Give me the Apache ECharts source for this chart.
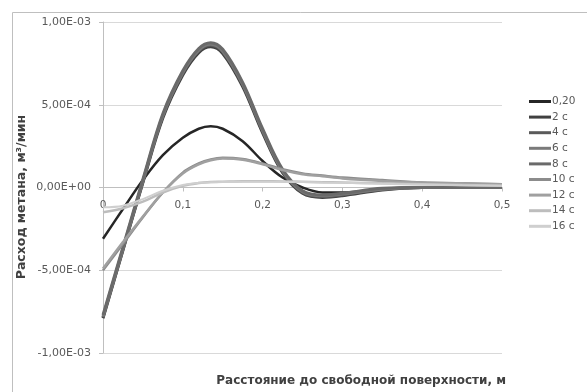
<!DOCTYPE html>
<html>
<head>
<meta charset="utf-8">
<script src="https://cdn.jsdelivr.net/npm/echarts@6/dist/echarts.min.js"></script>
<style>
  html, body { margin: 0; padding: 0; background: #fff; }
  #chart { width: 587px; height: 392px; }
</style>
</head>
<body>
<div id="chart"></div>
<script>
// Distance from the free surface, m
const distances = [0, 0.025, 0.05, 0.075, 0.1, 0.12, 0.135, 0.15, 0.175, 0.2, 0.225, 0.25, 0.275, 0.3, 0.35, 0.4, 0.45, 0.5];

// Methane flow, m3/min, for each moment in time
const s020 = [-3.1e-4, -1.3e-4, 0.45e-4, 1.95e-4, 3.0e-4, 3.55e-4, 3.7e-4, 3.55e-4, 2.8e-4, 1.6e-4, 0.6e-4, 0.0e-4, -0.3e-4, -0.3e-4, -0.1e-4, 0, 0, 0];
const s2  = [-7.9e-4, -3.8e-4, 0.3e-4, 4.2e-4, 6.8e-4, 8.15e-4, 8.5e-4, 8.1e-4, 6.1e-4, 3.3e-4, 0.9e-4, -0.35e-4, -0.6e-4, -0.5e-4, -0.15e-4, 0, 0, 0];
const s4  = [-7.85e-4, -3.75e-4, 0.35e-4, 4.3e-4, 6.9e-4, 8.25e-4, 8.6e-4, 8.2e-4, 6.2e-4, 3.4e-4, 0.95e-4, -0.3e-4, -0.55e-4, -0.45e-4, -0.1e-4, 0, 0, 0];
const s6  = [-7.8e-4, -3.7e-4, 0.4e-4, 4.35e-4, 6.95e-4, 8.3e-4, 8.65e-4, 8.25e-4, 6.25e-4, 3.45e-4, 1.0e-4, -0.25e-4, -0.5e-4, -0.4e-4, -0.1e-4, 0, 0, 0];
const s8  = [-7.7e-4, -3.6e-4, 0.5e-4, 4.45e-4, 7.05e-4, 8.4e-4, 8.75e-4, 8.35e-4, 6.35e-4, 3.55e-4, 1.1e-4, -0.2e-4, -0.45e-4, -0.35e-4, -0.05e-4, 0, 0, 0];
const s10 = [-5.0e-4, -3.4e-4, -1.8e-4, -0.3e-4, 0.9e-4, 1.45e-4, 1.7e-4, 1.8e-4, 1.72e-4, 1.45e-4, 1.1e-4, 0.85e-4, 0.72e-4, 0.6e-4, 0.45e-4, 0.3e-4, 0.25e-4, 0.2e-4];
const s12 = [-4.9e-4, -3.3e-4, -1.75e-4, -0.3e-4, 0.85e-4, 1.4e-4, 1.65e-4, 1.75e-4, 1.68e-4, 1.4e-4, 1.05e-4, 0.8e-4, 0.68e-4, 0.55e-4, 0.4e-4, 0.3e-4, 0.25e-4, 0.2e-4];
const s14 = [-1.5e-4, -1.25e-4, -0.85e-4, -0.3e-4, 0.1e-4, 0.27e-4, 0.33e-4, 0.35e-4, 0.38e-4, 0.38e-4, 0.37e-4, 0.35e-4, 0.32e-4, 0.3e-4, 0.25e-4, 0.2e-4, 0.15e-4, 0.1e-4];
const s16 = [-1.2e-4, -1.1e-4, -0.7e-4, -0.2e-4, 0.15e-4, 0.28e-4, 0.31e-4, 0.33e-4, 0.35e-4, 0.35e-4, 0.35e-4, 0.33e-4, 0.3e-4, 0.28e-4, 0.22e-4, 0.18e-4, 0.13e-4, 0.1e-4];

const seriesNames = ['0,20', '2 c', '4 c', '6 c', '8 c', '10 c', '12 c', '14 c', '16 c'];
const seriesValues = [s020, s2, s4, s6, s8, s10, s12, s14, s16];
const seriesColors = ['#262626', '#404040', '#5a5a5a', '#7a7a7a', '#6a6a6a', '#8c8c8c', '#a0a0a0', '#bdbdbd', '#cfcfcf'];
const seriesWidths = [2.5, 3, 3, 3, 3, 2.5, 2.5, 2.5, 2];

// Y axis tick text in the "1,00E-03" style
function sciLabel(v) {
  if (Math.abs(v) < 1e-12) return '0,00E+00';
  const e = Math.floor(Math.log10(Math.abs(v)) + 1e-9);
  const m = v / Math.pow(10, e);
  const ae = Math.abs(e);
  return m.toFixed(2).replace('.', ',') + 'E' + (e < 0 ? '-' : '+') + (ae < 10 ? '0' : '') + ae;
}

const font = 'DejaVu Sans';
const chart = echarts.init(document.getElementById('chart'), null, { renderer: 'canvas' });

chart.setOption({
  animation: false,
  backgroundColor: '#ffffff',
  grid: { left: 103, right: 85, top: 22, bottom: 39 },
  xAxis: {
    type: 'value',
    position: 'bottom',
    // the horizontal axis runs along the zero line of the flow axis
    offset: -165.5,
    min: 0, max: 0.5, interval: 0.1,
    axisLine: { onZero: false, lineStyle: { color: '#bfbfbf', width: 1 } },
    axisTick: { show: true, length: 4, lineStyle: { color: '#bfbfbf' } },
    splitLine: { show: false },
    axisLabel: {
      color: '#595959', fontFamily: font, fontSize: 10.5, margin: 12,
      formatter: v => String(Math.round(v * 10) / 10).replace('.', ',')
    }
  },
  yAxis: {
    type: 'value',
    min: -1e-3, max: 1e-3, interval: 5e-4,
    axisLine: { show: true, onZero: false, lineStyle: { color: '#bfbfbf', width: 1 } },
    axisTick: { show: true, length: 4, lineStyle: { color: '#bfbfbf' } },
    splitLine: { show: true, lineStyle: { color: '#d9d9d9', width: 1 } },
    axisLabel: {
      color: '#595959', fontFamily: font, fontSize: 11, margin: 12,
      formatter: sciLabel
    }
  },
  legend: {
    orient: 'vertical',
    left: 524, top: 91,
    itemWidth: 22, itemHeight: 3, itemGap: 4.6,
    icon: 'rect',
    textStyle: { color: '#595959', fontFamily: font, fontSize: 10.5, padding: [0, 0, 0, -4] },
    data: seriesNames
  },
  graphic: [
    {
      type: 'rect', silent: true,
      shape: { x: 12.5, y: 12.5, width: 600, height: 400 },
      style: { fill: 'none', stroke: '#bfbfbf', lineWidth: 1 }
    },
    {
      type: 'text', silent: true,
      x: 506, y: 381,
      style: {
        text: 'Расстояние до свободной поверхности, м',
        fill: '#404040', font: 'bold 12px "DejaVu Sans"',
        align: 'right', verticalAlign: 'middle'
      }
    },
    {
      type: 'text', silent: true,
      rotation: Math.PI / 2,
      x: 22, y: 197,
      style: {
        text: 'Расход метана, м³/мин',
        fill: '#404040', font: 'bold 12.5px "DejaVu Sans"',
        align: 'center', verticalAlign: 'middle'
      }
    }
  ],
  series: seriesNames.map((name, i) => ({
    name: name,
    type: 'line',
    symbol: 'none',
    smooth: 0.35,
    color: seriesColors[i],
    lineStyle: { color: seriesColors[i], width: seriesWidths[i] },
    data: distances.map((d, k) => [d, seriesValues[i][k]])
  }))
});
</script>
</body>
</html>
